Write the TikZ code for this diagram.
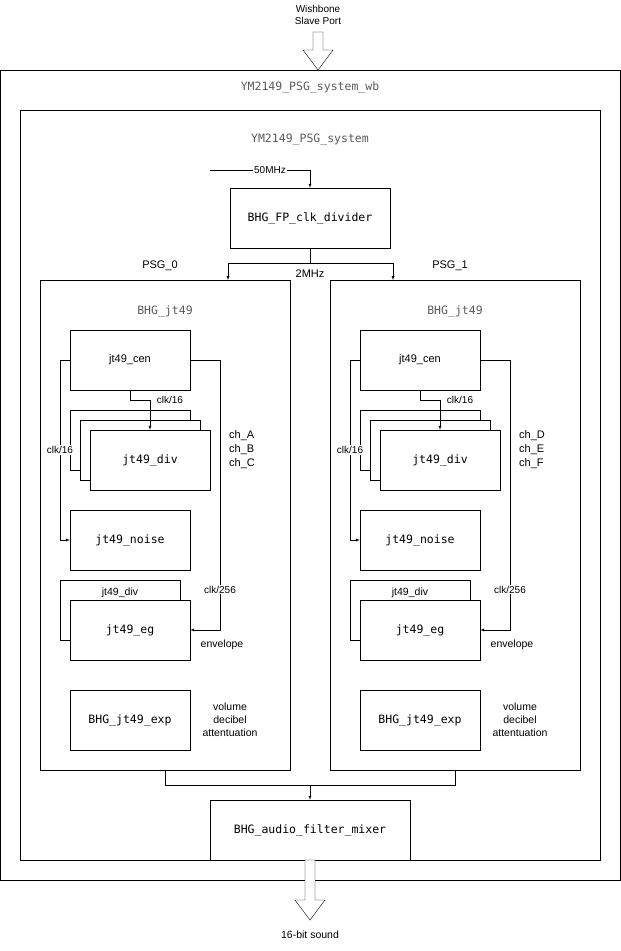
\documentclass[tikz,border=0pt]{standalone}
\usepackage{fontspec}
\setmainfont{Liberation Sans}
\setmonofont{DejaVu Sans Mono}
\usetikzlibrary{positioning}
\definecolor{titlegray}{RGB}{90,90,90}

\begin{document}
\begin{tikzpicture}[x=1pt,y=-1pt,>=latex,
	blk/.style={draw,fill=white,font=\ttfamily\fontsize{11.5}{13}\selectfont,inner sep=0pt},
	ttl/.style={font=\ttfamily\fontsize{11.5}{13}\selectfont,text=titlegray},
	lbl/.style={font=\fontsize{10}{12}\selectfont,inner sep=1pt},
	wlbl/.style={lbl,fill=white}]
	\useasboundingbox (0,0) rectangle (621,951);
	% outer wrappers
	\draw (0,70) rectangle (620,880);
	\node[ttl] (wbname) at (310,87) {YM2149\_PSG\_system\_wb};
	\draw (20,110) rectangle (600,860);
	\node[ttl] (sysname) at (310,140) {YM2149\_PSG\_system};
	% wishbone port
	\node[lbl,align=center] (wb) at (318,15) {Wishbone\\Slave Port};
	\draw[fill=white] (313,32) -- (323,32) -- (323,50) -- (333,50) -- (318,70) -- (303,50) -- (313,50) -- cycle;
	% clock divider
	\node[blk,minimum width=160pt,minimum height=60pt] (clkdiv) at (310,218) {BHG\_FP\_clk\_divider};
	\coordinate (clkin) at (210,170);
	\draw[->] (clkin) -- (310,170) node[wlbl,pos=0.6] {50MHz} -- (clkdiv.north);
	\coordinate (split) at (310,263);
	\draw (clkdiv.south) -- (split);
	\draw[->] (split) -- (228,263) -- (228,280);
	\draw[->] (split) -- (393,263) -- (393,280);
	\node[lbl,font=\fontsize{11}{13}\selectfont] (mhz) at (310,274) {2MHz};
	% two PSG instances
	\foreach \i/\dx/\a/\b/\c in {0/0/A/B/C,1/290/D/E/F}{
	\begin{scope}[xshift=\dx]
		\draw (40,280) rectangle (290,770);
		\node[lbl,font=\fontsize{11}{13}\selectfont] (psg\i) at (160,266) {PSG\_\i};
		\node[ttl] (jt\i) at (165,311) {BHG\_jt49};
		\node[blk,minimum width=120pt,minimum height=60pt,font=\fontsize{11}{13}\selectfont] (cen\i) at (130,360) {jt49\_cen};
		\node[blk,minimum width=120pt,minimum height=60pt] (diva\i) at (130,440) {};
		\node[blk,minimum width=120pt,minimum height=60pt] (divb\i) at (140,450) {};
		\node[blk,minimum width=120pt,minimum height=60pt] (div\i) at (150,460) {jt49\_div};
		\node[blk,minimum width=120pt,minimum height=60pt] (noise\i) at (130,540) {jt49\_noise};
		\node[blk,minimum width=120pt,minimum height=60pt] (egdiv\i) at (120,610) {};
		\node[lbl,font=\fontsize{10.5}{12}\selectfont] (egdt\i) at (120,593) {jt49\_div};
		\node[blk,minimum width=120pt,minimum height=60pt] (eg\i) at (130,630) {jt49\_eg};
		\node[blk,minimum width=120pt,minimum height=60pt] (exp\i) at (130,720) {BHG\_jt49\_exp};
		\draw[->] (cen\i.south) -- (130,400) -- (150,400) -- (div\i.north);
		\node[lbl] (c16a\i) at (170,400) {clk/16};
		\draw[->] (cen\i.west) -- (60,360) -- (60,540) node[wlbl,pos=0.5] {clk/16} -- (noise\i.west);
		\draw[->] (cen\i.east) -- (220,360) -- (220,630) node[wlbl,pos=0.85] {clk/256} -- (eg\i.east);
		\node[lbl,align=left,font=\fontsize{11}{14}\selectfont] (ch\i) at (242,450) {ch\_\a\\ch\_\b\\ch\_\c};
		\node[lbl,font=\fontsize{10.5}{12}\selectfont] (env\i) at (222,645) {envelope};
		\node[lbl,align=center,font=\fontsize{10.5}{13}\selectfont] (vol\i) at (230,720) {volume\\decibel\\attentuation};
	\end{scope}}
	% mixer
	\node[blk,minimum width=200pt,minimum height=60pt] (mix) at (310,830) {BHG\_audio\_filter\_mixer};
	\coordinate (join) at (310,785);
	\draw (165,770) -- (165,785) -- (455,785) -- (455,770);
	\draw[->] (join) -- (mix.north);
	% sound out
	\draw[fill=white] (305,860) -- (315,860) -- (315,900) -- (325,900) -- (310,920) -- (295,900) -- (305,900) -- cycle;
	\node[lbl,font=\fontsize{10.5}{12}\selectfont] (snd) at (310,935) {16-bit sound};
\end{tikzpicture}
\end{document}
